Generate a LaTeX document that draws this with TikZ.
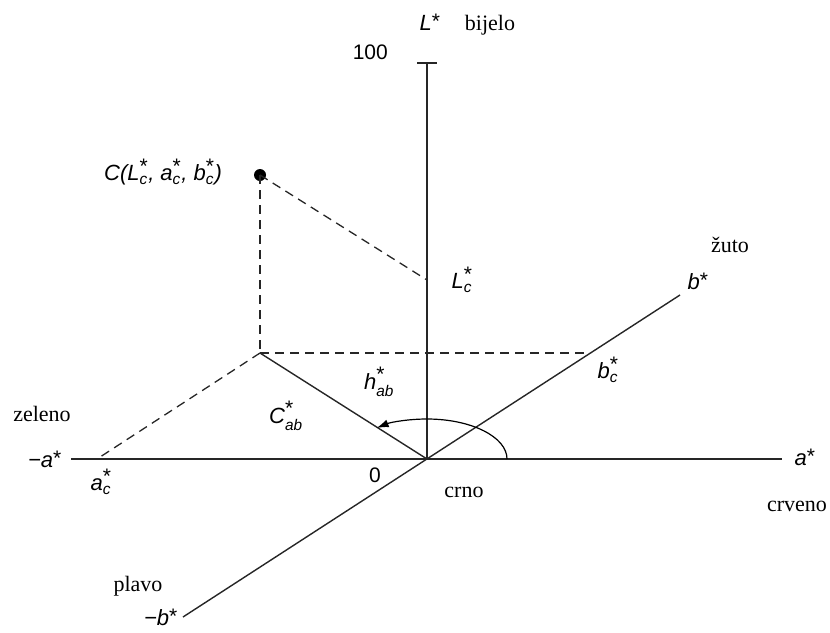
\documentclass[tikz,border=0pt]{standalone}
\usepackage{amsmath}
\usepackage{fontspec}
\setmainfont{Liberation Serif}
\setsansfont{Liberation Sans}
\usetikzlibrary{arrows.meta}
\tikzset{
    axis/.style={line width=1.4pt, draw=black!85},
    guide/.style={line width=1.3pt, draw=black!85, dash pattern=on 9pt off 6pt},
    hue/.style={line width=1.2pt, -{Latex[length=12pt, width=8pt]}},
    var/.style={font=\sffamily\itshape\fontsize{22}{25}\selectfont, inner sep=1pt},
    num/.style={font=\sffamily\fontsize{21}{24}\selectfont, inner sep=1pt},
    colour/.style={font=\fontsize{22}{26}\selectfont, inner sep=1pt},
}
\newcommand{\ster}{\raisebox{-0.36em}{\fontsize{21}{24}\selectfont\upshape *}}
\newcommand{\st}[1]{#1$^{\text{\ster}}$}
\newcommand{\stsub}[2]{#1$^{\text{\ster}}_{\text{#2}}$}

\begin{document}
\begin{tikzpicture}[x=1pt, y=-1pt]
    \useasboundingbox (0,0) rectangle (830,632);

    % axes
    \coordinate (O) at (427,459);
    \coordinate (Ltop) at (427,63);
    \coordinate (aneg) at (71,459);
    \coordinate (apos) at (782,459);
    \coordinate (bneg) at (183,617);
    \coordinate (bpos) at (680,295);
    \draw[axis] (O) -- (Ltop);
    \draw[axis] ([xshift=-10pt]Ltop) -- ([xshift=10pt]Ltop);
    \draw[axis] (aneg) -- (apos);
    \draw[axis] (bneg) -- (bpos);

    % colour point and its projections
    \node[circle, fill=black, inner sep=0pt, minimum size=12pt] (C) at (260,175) {};
    \coordinate (Lc) at (427,280);
    \coordinate (P) at (260,353);
    \coordinate (ac) at (97,459);
    \coordinate (bc) at (586,353);
    \draw[guide] (C.center) -- (Lc);
    \draw[guide] (C.center) -- (P);
    \draw[guide] (P) -- (bc);
    \draw[guide] (P) -- (ac);
    \draw[axis] (P) -- (O);
    \draw[hue] ([xshift=80pt]O) arc[start angle=0, end angle=129,
                                    x radius=80pt, y radius=40pt];

    % labels
    \node[num, anchor=east] (hundred) at (389,52) {100};
    \node[var] (Llab) at (430,22) {\st{L}};
    \node[colour] (white) at (490,25) {bijelo};
    \node[var] (Clab) at (163,172) {C(\stsub{L}{c}, \stsub{a}{c}, \stsub{b}{c})};
    \node[var] (Lclab) at (462,280) {\stsub{L}{c}};
    \node[var] (hlab) at (379,382) {\stsub{h}{ab}};
    \node[var] (Cablab) at (286,416) {\stsub{C}{ab}};
    \node[colour] (green) at (42,414) {zeleno};
    \node[var] (aneglab) at (45,459) {−\st{a}};
    \node[var] (aclab) at (101,482) {\stsub{a}{c}};
    \node[num] (zero) at (375,475) {0};
    \node[colour] (black) at (464,492) {crno};
    \node[var] (aposlab) at (805,457) {\st{a}};
    \node[colour] (red) at (797,506) {crveno};
    \node[colour] (yellow) at (730,245) {žuto};
    \node[var] (bposlab) at (698,281) {\st{b}};
    \node[var] (bclab) at (608,370) {\stsub{b}{c}};
    \node[colour] (blue) at (138,586) {plavo};
    \node[var] (bneglab) at (161,617) {−\st{b}};
\end{tikzpicture}
\end{document}
